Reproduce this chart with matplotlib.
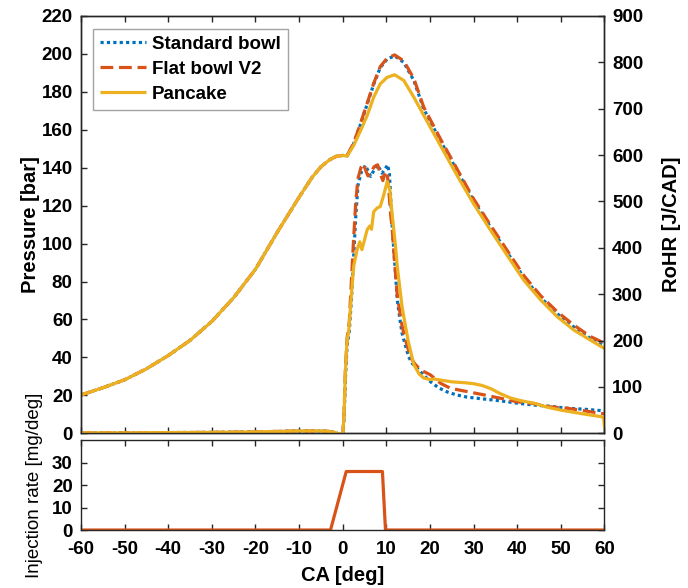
import matplotlib
matplotlib.use("Agg")
import matplotlib.pyplot as plt

plt.rcParams['font.family'] = ['Liberation Sans', 'DejaVu Sans']
plt.rcParams['font.weight'] = 'bold'
plt.rcParams['axes.unicode_minus'] = False

# ---- cylinder pressure [bar] vs crank angle [deg] ----
ca_p_std = [-60, -55, -50, -45, -40, -35, -30, -25, -20, -15, -10, -7, -5, -3, -1.5, 0, 1,
            2.5, 4.1, 5.6, 7.1, 8.6, 10.2, 11.9, 14.0, 16.3, 18.6, 22.4, 26.2, 30.0, 33.9,
            37.7, 41.5, 45.3, 49.2, 53.0, 56.8, 60]
p_std = [20.2, 24.0, 28.2, 34.0, 41.0, 49.0, 59.0, 71.5, 86.5, 106.0, 124.5, 135.0, 140.5, 144.2,
         146.0, 146.5, 146.3, 152.6, 163.0, 173.5, 184.0, 192.8, 197.3, 199.0, 195.5, 186.0,
         170.8, 154.2, 138.4, 122.6, 108.6, 95.4, 82.2, 71.7, 63.0, 56.0, 50.0, 46.6]

ca_p_flat = ca_p_std
p_flat = [20.2, 24.0, 28.2, 34.0, 41.0, 49.0, 59.0, 71.5, 86.5, 106.0, 124.5, 135.0, 140.5, 144.2,
          146.0, 146.5, 146.4, 153.0, 163.5, 174.0, 184.5, 193.3, 197.8, 199.5, 196.3, 187.0,
          171.8, 155.2, 139.4, 123.6, 109.6, 96.4, 83.2, 72.7, 64.0, 57.0, 51.0, 47.5]

ca_p_pan = ca_p_std
p_pan = [20.2, 24.0, 28.2, 34.0, 41.0, 49.0, 59.0, 71.5, 86.5, 106.0, 124.5, 135.0, 140.5, 144.2,
         146.0, 146.5, 146.1, 151.7, 159.6, 167.5, 177.2, 184.2, 187.7, 189.0, 186.0, 177.2,
         167.5, 151.7, 136.0, 121.0, 107.0, 93.8, 80.7, 70.5, 61.4, 54.4, 49.1, 44.7]

# ---- rate of heat release [J/CAD] ----
ca_r_std = [-60, -50, -40, -30, -20, -10, -5, -3, -1.5, -0.5, 0, 0.3, 0.6, 1.0, 1.5, 2.0, 2.5,
            3.0, 3.5, 4.2, 5.2, 5.8, 6.4, 7.2, 7.9, 8.5, 9.0, 9.6, 10.3, 10.7, 11.0, 11.3, 11.7,
            12.1, 12.5, 13.2, 13.6, 14.2, 15.1, 16.0, 17.1, 18.6, 20.0, 22.0, 24.0, 26.0, 28.5,
            32.3, 36.2, 40.0, 43.8, 47.6, 51.5, 55.3, 59.1, 60]
r_std = [1, 1, 1.5, 2, 3, 5, 5, 4, 1, -3, -3, 30, 115, 190, 220, 290, 380, 470, 535, 562, 578,
         566, 554, 568, 579, 570, 561, 568, 579, 560, 505, 453, 396, 345, 288, 240, 216, 195,
         165, 150, 140, 125, 112, 98, 89, 83, 78, 74, 70, 65, 61, 58, 54, 52, 49, 48]

ca_r_flat = [-60, -50, -40, -30, -20, -10, -5, -3, -1.5, -0.5, 0, 0.3, 0.6, 1.0, 1.5, 2.0, 2.5,
             3.0, 3.5, 4.2, 4.8, 5.3, 5.8, 6.4, 7.2, 8.0, 8.6, 9.2, 9.8, 10.2, 10.6, 11.0, 11.3,
             11.7, 12.1, 12.5, 13.2, 13.6, 14.2, 15.5, 16.5, 17.8, 20.1, 22.4, 24.7, 28.5, 32.3,
             36.2, 40.0, 43.8, 47.6, 51.5, 55.3, 59.1, 60]
r_flat = [1, 1, 1.5, 2, 3, 5, 5, 4, 1, -3, -3, 40, 135, 205, 240, 330, 420, 500, 550, 574, 581,
          566, 555, 562, 575, 579, 560, 545, 565, 560, 520, 470, 445, 395, 345, 298, 255, 232,
          208, 165, 150, 137, 126, 108, 97, 90, 83, 75.5, 68, 64, 57, 54, 48.7, 43, 42]

ca_r_pan = [-60, -50, -40, -30, -20, -10, -5, -3, -1.5, -0.5, 0, 0.3, 0.6, 1.0, 1.4, 2.0, 2.5,
            3.3, 3.9, 4.4, 5.6, 6.2, 6.6, 7.1, 7.9, 8.6, 9.4, 10.2, 10.8, 11.3, 12.1, 12.5, 13.6,
            14.4, 15.1, 16.3, 17.5, 18.6, 20.0, 21.0, 23.0, 25.0, 28.0, 30.0, 32.0, 34.0, 36.0,
            38.5, 41.0, 43.8, 47.0, 50.0, 55.0, 59.1, 59.8, 60]
r_pan = [1, 1, 1.5, 2, 3, 5, 5, 4, 1, -3, -3, 40, 130, 201, 223, 300, 360, 396, 413, 396, 439,
         447, 440, 478, 486, 489, 514, 543, 525, 475, 403, 360, 273, 230, 195, 148, 128, 119,
         116, 117, 114, 111, 109, 107, 103, 96, 86, 76, 70, 65, 56, 50, 42, 36, 34, 14]

# ---- injection rate [mg/deg] ----
ca_inj = [-60, -2.8, 0.8, 9.1, 9.8, 60]
inj = [0, 0, 26, 26, 0, 0]

labels = ['Standard bowl', 'Flat bowl V2', 'Pancake']
colors = ['#0072BD', '#D95319', '#EDB120']
styles = [(0, (1, 1)), (0, (4, 1.8)), '-']
lw = 2.3

x_ticks = list(range(-60, 61, 10))
p_ticks = list(range(0, 221, 20))
r_ticks = list(range(0, 901, 100))
inj_ticks = [0, 10, 20, 30]

fig = plt.figure(figsize=(6.88, 5.88), dpi=100)
ax = fig.add_axes([0.1177, 0.2631, 0.7609, 0.7097])
ax_r = ax.twinx()
ax_i = fig.add_axes([0.1177, 0.0986, 0.7609, 0.1531])

tick_kw = dict(direction='in', length=4, width=1, labelsize=13.5, colors='#262626',
               labelcolor='black')

pressure = [(ca_p_std, p_std), (ca_p_flat, p_flat), (ca_p_pan, p_pan)]
rohr = [(ca_r_std, r_std), (ca_r_flat, r_flat), (ca_r_pan, r_pan)]

handles = []
for (x, y), c, s, lab in zip(pressure, colors, styles, labels):
    h, = ax.plot(x, y, color=c, linestyle=s, linewidth=lw, label=lab,
                 dash_capstyle='butt', solid_capstyle='butt')
    handles.append(h)
for (x, y), c, s in zip(rohr, colors, styles):
    ax_r.plot(x, y, color=c, linestyle=s, linewidth=lw, dash_capstyle='butt')

ax.set_xlim(-60, 60)
ax.set_ylim(0, 220)
ax.set_xticks(x_ticks)
ax.set_yticks(p_ticks)
ax.tick_params(axis='both', which='both', top=True, labelbottom=False, **tick_kw)
ax.tick_params(axis='y', pad=6)
ax.set_ylabel('Pressure [bar]', fontsize=14.5, fontweight='bold')
ax.yaxis.set_label_coords(-0.078, 0.5)

ax_r.set_ylim(0, 900)
ax_r.set_yticks(r_ticks)
ax_r.tick_params(axis='y', **tick_kw)
ax_r.tick_params(axis='y', pad=5.5)
ax_r.set_ylabel('RoHR [J/CAD]', fontsize=14.5, fontweight='bold', rotation=90)
ax_r.yaxis.set_label_coords(1.11, 0.5)

for a in (ax, ax_r, ax_i):
    for sp in a.spines.values():
        sp.set_linewidth(1.0)
        sp.set_color('#262626')

leg = ax.legend(handles=handles, loc='upper left', bbox_to_anchor=(0.023, 0.968),
                borderaxespad=0, fontsize=13.5, frameon=True, fancybox=False,
                handlelength=2.5, handletextpad=0.3, labelspacing=0.42,
                borderpad=0.35)
leg.get_frame().set_edgecolor('#8c8c8c')
leg.get_frame().set_linewidth(1.0)
for t in leg.get_texts():
    t.set_fontweight('bold')

ax_i.plot(ca_inj, inj, color=colors[1], linewidth=lw)
ax_i.set_xlim(-60, 60)
ax_i.set_ylim(0, 40)
ax_i.set_xticks(x_ticks)
ax_i.set_yticks(inj_ticks)
ax_i.tick_params(axis='both', which='both', top=True, right=True, labelright=False, **tick_kw)
ax_i.tick_params(axis='y', pad=6)
ax_i.tick_params(axis='x', pad=8)
ax_i.set_ylabel('Injection rate [mg/deg]', fontsize=13.5, fontweight='normal')
ax_i.yaxis.set_label_coords(-0.072, 0.5)
ax_i.set_xlabel('CA [deg]', fontsize=14.5, fontweight='bold')
ax_i.xaxis.set_label_coords(0.5, -0.4)

for a in (ax, ax_r, ax_i):
    for t in a.get_xticklabels() + a.get_yticklabels():
        t.set_fontweight('bold')

fig.savefig('out.png', dpi=100)
